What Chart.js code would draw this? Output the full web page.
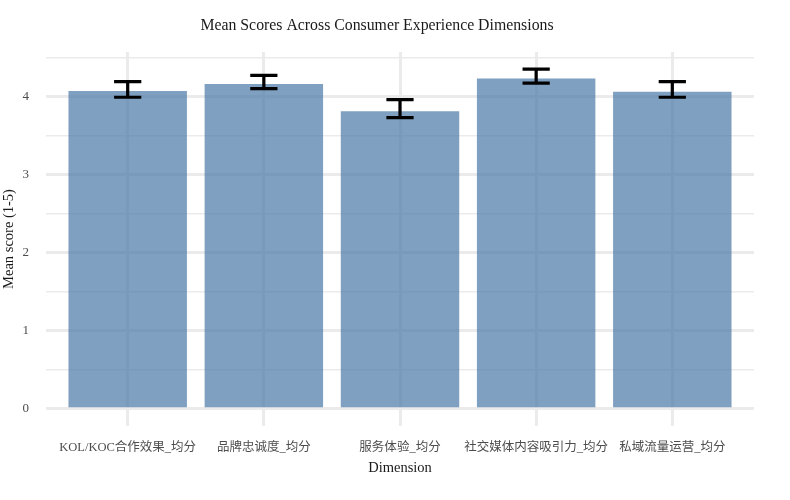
<!DOCTYPE html>
<html>
<head>
<meta charset="utf-8">
<script src="https://cdn.jsdelivr.net/npm/chart.js@4"></script>
<style>
  body { margin: 0; background: #fff; }
  #wrap { width: 790px; height: 500px; }
</style>
</head>
<body>
<div id="wrap"><canvas id="chart" width="790" height="500"></canvas></div>
<script>
/* data */
const dimensions = ["KOL/KOC合作效果_均分", "品牌忠诚度_均分", "服务体验_均分", "社交媒体内容吸引力_均分", "私域流量运营_均分"];
const meanScores = [4.07, 4.16, 3.81, 4.23, 4.06];
const errLow = [3.99, 4.10, 3.73, 4.17, 3.99];
const errHigh = [4.19, 4.27, 3.96, 4.35, 4.19];
const yTicks = [0, 0.5, 1, 1.5, 2, 2.5, 3, 3.5, 4, 4.5];

const serif = "'Liberation Serif', 'Noto Sans CJK SC', serif";

// error bars drawn on top of the bars
const errorBars = {
    id: "errorBars",
    afterDatasetsDraw(chart) {
        const ctx = chart.ctx;
        const xs = chart.scales.x, ys = chart.scales.y;
        ctx.save();
        ctx.strokeStyle = "#000";
        ctx.lineWidth = 3.2;
        dimensions.forEach((d, i) => {
            const x = xs.getPixelForValue(i);
            const half = (xs.getPixelForValue(1) - xs.getPixelForValue(0)) * 0.1;
            const top = ys.getPixelForValue(errHigh[i]);
            const bot = ys.getPixelForValue(errLow[i]);
            ctx.beginPath();
            ctx.moveTo(x, top); ctx.lineTo(x, bot);
            ctx.moveTo(x - half, top); ctx.lineTo(x + half, top);
            ctx.moveTo(x - half, bot); ctx.lineTo(x + half, bot);
            ctx.stroke();
        });
        ctx.restore();
    }
};

new Chart(document.getElementById("chart"), {
    type: "bar",
    data: {
        datasets: [{
            data: meanScores.map((v, i) => ({ x: i, y: v })),
            backgroundColor: "rgba(72,119,165,0.7)",
            borderWidth: 0,
            barPercentage: 0.87,
            categoryPercentage: 1
        }]
    },
    options: {
        responsive: false,
        animation: false,
        layout: { padding: { left: 0, right: 36, top: 0, bottom: 0 } },
        plugins: {
            legend: { display: false },
            tooltip: { enabled: false },
            title: {
                display: true,
                text: "Mean Scores Across Consumer Experience Dimensions",
                color: "#1a1a1a",
                font: { family: serif, size: 15.8, weight: "normal" },
                padding: { top: 16, bottom: 17 }
            }
        },
        scales: {
            x: {
                type: "linear",
                min: -0.6,
                max: 4.6,
                offset: false,
                afterBuildTicks: s => { s.ticks = dimensions.map((d, i) => ({ value: i })); },
                afterFit: s => { s.height = 74; },
                grid: { color: "#ebebeb", lineWidth: 3, drawTicks: false, offset: false },
                border: { display: false },
                ticks: {
                    padding: 14,
                    maxRotation: 0,
                    minRotation: 0,
                    autoSkip: false,
                    color: "#4d4d4d",
                    font: { family: serif, size: 12.5 },
                    callback: v => dimensions[v]
                },
                title: {
                    display: true,
                    text: "Dimension",
                    color: "#1a1a1a",
                    font: { family: serif, size: 14.5 },
                    padding: { top: 6, bottom: 23 }
                }
            },
            y: {
                min: -0.22,
                max: 4.57,
                afterBuildTicks: s => { s.ticks = yTicks.map(v => ({ value: v })); },
                afterFit: s => { s.width = 46; },
                grid: {
                    color: "#ebebeb",
                    lineWidth: c => (c.tick && c.tick.value % 1 === 0 ? 3 : 1.5),
                    drawTicks: false
                },
                border: { display: false },
                ticks: {
                    padding: 17,
                    color: "#4d4d4d",
                    font: { family: serif, size: 13 },
                    callback: v => (v % 1 === 0 ? String(v) : "")
                },
                title: {
                    display: true,
                    text: "Mean score (1-5)",
                    color: "#1a1a1a",
                    font: { family: serif, size: 14.5 },
                    padding: { top: 0, bottom: 7 }
                }
            }
        }
    },
    plugins: [errorBars]
});
</script>
</body>
</html>
